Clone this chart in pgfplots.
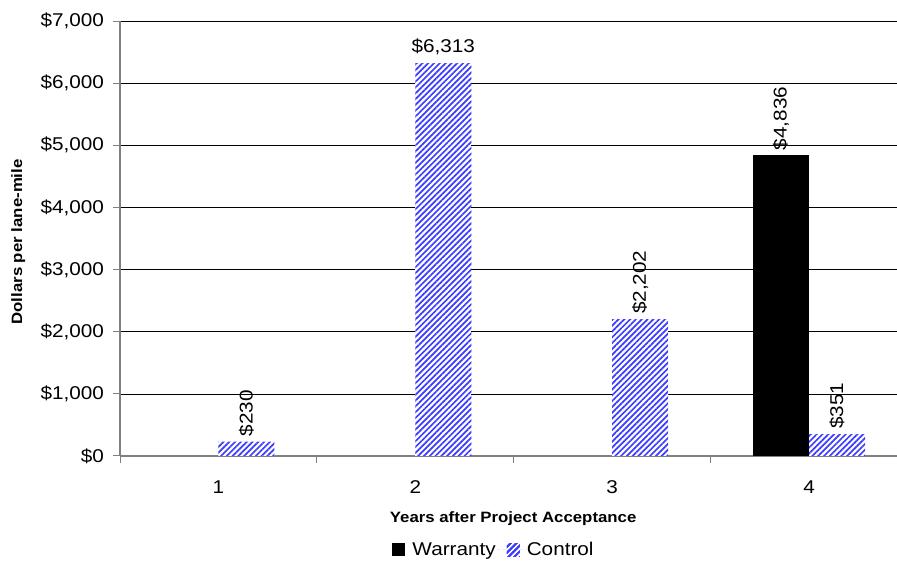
\documentclass[border=0pt]{standalone}
\usepackage{fontspec}
\setmainfont{Liberation Sans}[FakeStretch=1.12]
\usepackage{pgfplots}
\pgfplotsset{compat=1.18}
\usetikzlibrary{patterns.meta}
\definecolor{ctrlblue}{RGB}{60,60,255}
\definecolor{axgray}{RGB}{128,128,128}
\begin{document}
\begin{tikzpicture}
\begin{axis}[
  at={(120bp,105bp)}, anchor=south west,
  scale only axis, width=777bp, height=435bp,
  xmin=0.5, xmax=4.447, ymin=0, ymax=7000,
  axis x line*=bottom, axis y line*=left,
  axis line style={axgray, line width=1.3bp},
  ytick={0,1000,2000,3000,4000,5000,6000,7000},
  yticklabels={{\$0},{\$1,000},{\$2,000},{\$3,000},{\$4,000},{\$5,000},{\$6,000},{\$7,000}},
  ymajorgrids, grid style={black, line width=0.7bp},
  xtick={0.5,1.5,2.5,3.5}, xticklabels={},
  extra x ticks={1,2,3,4}, extra x tick labels={1,2,3,4},
  extra x tick style={major tick length=0pt, grid=none},
  tick align=outside, major tick length=6.5bp,
  tick style={axgray, line width=1bp},
  ticklabel style={font=\fontsize{18.5bp}{22bp}\selectfont},
  xticklabel style={yshift=-21bp},
  yticklabel style={xshift=-6bp},
  xlabel={Years after Project Acceptance},
  ylabel={Dollars per lane-mile},
  label style={font=\bfseries\fontsize{15bp}{18bp}\selectfont},
  xlabel style={at={(axis description cs:0.506,-0.145)}, anchor=center},
  ylabel style={at={(axis description cs:-0.131,0.492)}, anchor=center},
  legend style={at={(axis description cs:0.473,-0.216)}, anchor=center, draw=none,
    font=\fontsize{18.5bp}{22bp}\selectfont, legend columns=-1,
    column sep=0pt, inner sep=0pt, nodes={inner xsep=0pt}},
  ybar, bar width=56bp,
  point meta=explicit symbolic,
  nodes near coords,
  nodes near coords style={font=\fontsize{18.5bp}{22bp}\selectfont, black},
]
\addplot[fill=black, draw=none, bar shift=-28bp,
  every node near coord/.append style={rotate=90, anchor=west, inner xsep=5bp, inner ysep=0pt},
  legend image code/.code={\path[draw=none, fill=none] (0bp,0bp) -- (31bp,0bp);
     \fill[black, draw=none] (11bp,-6.5bp) rectangle (24bp,6.5bp);}]
  coordinates {(4,4836) [{\$4,836}]};
\addlegendentry{Warranty}
\addplot[fill=white, draw=none, bar shift=28bp,
  postaction={pattern={Lines[angle=45,distance=4.1bp,line width=1.7bp]}, pattern color=ctrlblue},
  every node near coord/.append style={rotate=90, anchor=west, inner xsep=5bp, inner ysep=0pt},
  legend image code/.code={\path[draw=none, fill=none] (0bp,0bp) -- (31bp,0bp);
     \fill[white, draw=none] (11bp,-6.5bp) rectangle (24bp,6.5bp);
     \fill[draw=none, pattern={Lines[angle=45,distance=4.1bp,line width=1.7bp]}, pattern color=ctrlblue] (11bp,-6.5bp) rectangle (24bp,6.5bp);}]
  coordinates {(1,230) [{\$230}] (3,2202) [{\$2,202}] (4,351) [{\$351}]};
\addlegendentry{Control}
\addplot[fill=white, draw=none, bar shift=28bp, forget plot,
  postaction={pattern={Lines[angle=45,distance=4.1bp,line width=1.7bp]}, pattern color=ctrlblue},
  every node near coord/.append style={anchor=base, yshift=11bp, inner sep=0pt}]
  coordinates {(2,6313) [{\$6,313}]};
\end{axis}
\pgfresetboundingbox
\path[use as bounding box] (0,0) rectangle (897bp,561bp);
\end{tikzpicture}
\end{document}
